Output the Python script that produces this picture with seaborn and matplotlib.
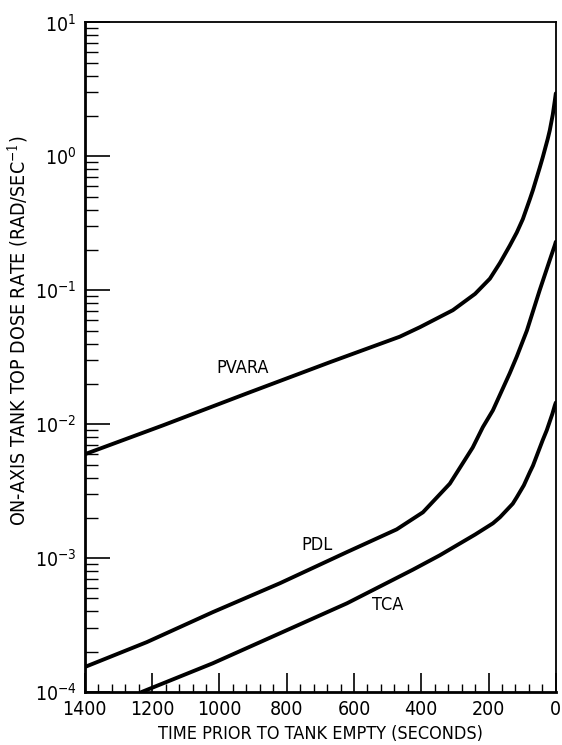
import matplotlib
matplotlib.use("Agg")
import matplotlib.pyplot as plt
import matplotlib.ticker as mticker
import numpy as np
import pandas as pd
import seaborn as sns

# values (time in s before tank empty, dose rate in rad/s)
pvara_t = [1400, 1168, 918, 672, 464, 404, 306, 240, 196, 166, 137, 116, 98, 77, 68, 48, 39, 24, 18, 9, 3, 0]
pvara_r = [5.97e-3, 9.8e-3, 1.70e-2, 2.9e-2, 4.5e-2, 5.3e-2, 7.1e-2, 9.4e-2, 0.122, 0.160, 0.215,
           0.27, 0.34, 0.48, 0.56, 0.82, 0.98, 1.35, 1.56, 2.05, 2.6, 2.95]

pdl_t = [1400, 1216, 1020, 820, 621, 473, 395, 315, 247, 217, 187, 137, 116, 86, 48, 18, 3, 0]
pdl_r = [1.54e-4, 2.36e-4, 3.95e-4, 6.5e-4, 1.11e-3, 1.64e-3, 2.2e-3, 3.6e-3, 6.7e-3, 9.5e-3,
         1.27e-2, 2.4e-2, 3.2e-2, 5.0e-2, 0.100, 0.168, 0.217, 0.23]

tca_t = [1232, 1020, 820, 621, 425, 345, 240, 187, 166, 128, 116, 95, 77, 68, 39, 27, 10, 3, 0]
tca_r = [1.0e-4, 1.64e-4, 2.75e-4, 4.6e-4, 8.2e-4, 1.05e-3, 1.5e-3, 1.82e-3, 2.02e-3, 2.55e-3,
         2.85e-3, 3.5e-3, 4.4e-3, 4.9e-3, 7.6e-3, 9.0e-3, 1.2e-2, 1.38e-2, 1.45e-2]

curve_names = ["PVARA", "PDL", "TCA"]

df = pd.concat([
    pd.DataFrame({"t": pvara_t, "rate": pvara_r, "curve": "PVARA"}),
    pd.DataFrame({"t": pdl_t, "rate": pdl_r, "curve": "PDL"}),
    pd.DataFrame({"t": tca_t, "rate": tca_r, "curve": "TCA"}),
])

sns.set_style("ticks")
plt.rcParams["font.family"] = ["DejaVu Sans"]
plt.rcParams["font.stretch"] = "condensed"
plt.rcParams["mathtext.fontset"] = "dejavuserif"
for key in ["text.color", "axes.labelcolor", "xtick.color", "ytick.color", "axes.edgecolor"]:
    plt.rcParams[key] = "black"

fig = plt.figure(figsize=(5.62, 7.45), dpi=100)
ax = fig.add_axes([0.151, 0.071, 0.838, 0.899])

sns.lineplot(data=df, x="t", y="rate", hue="curve", palette={c: "black" for c in curve_names},
             linewidth=2.8, legend=False, ax=ax, sort=True, solid_joinstyle="round")

ax.set_yscale("log")
ax.set_ylim(1e-4, 1e1)
ax.set_xlim(1400, 0)

ax.xaxis.set_major_locator(mticker.MultipleLocator(200))
ax.xaxis.set_minor_locator(mticker.MultipleLocator(40))
ax.yaxis.set_major_locator(mticker.LogLocator(base=10))
ax.yaxis.set_minor_locator(mticker.LogLocator(base=10, subs=np.arange(2, 10)))
ax.yaxis.set_minor_formatter(mticker.NullFormatter())

ax.tick_params(axis="x", which="major", direction="in", length=14, width=1.2, labelsize=14, pad=6)
ax.tick_params(axis="x", which="minor", direction="in", length=6, width=1.0)
ax.tick_params(axis="y", which="major", direction="in", length=18, width=1.2, labelsize=14, pad=6)
ax.tick_params(axis="y", which="minor", direction="in", length=9, width=1.0)

for side in ["left", "bottom"]:
    ax.spines[side].set_linewidth(2.0)
for side in ["top", "right"]:
    ax.spines[side].set_linewidth(1.3)

ax.set_xlabel("TIME PRIOR TO TANK EMPTY (SECONDS)", fontsize=13, labelpad=4)
ax.set_ylabel("ON-AXIS TANK TOP DOSE RATE (RAD/SEC$^{-1}$)", fontsize=14)
ax.yaxis.set_label_coords(-0.115, 0.54)

ax.text(930, 0.0262, "PVARA", fontsize=13, ha="center", va="center")
ax.text(710, 1.25e-3, "PDL", fontsize=13, ha="center", va="center")
ax.text(500, 4.46e-4, "TCA", fontsize=13, ha="center", va="center")

fig.savefig("out.png", dpi=100)
